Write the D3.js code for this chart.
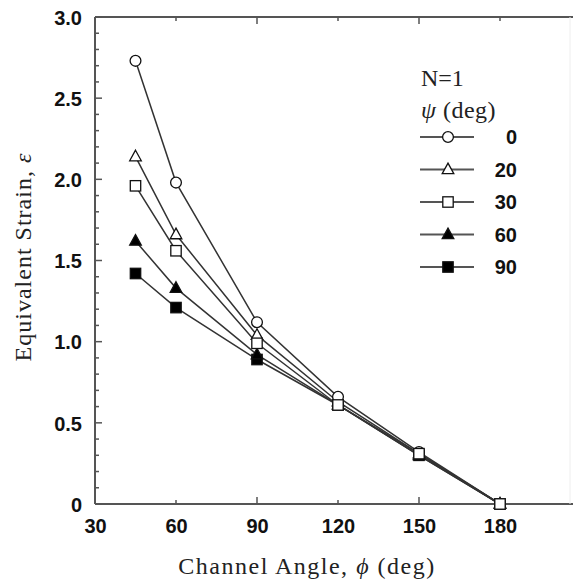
<!DOCTYPE html>
<html>
<head>
<meta charset="utf-8">
<script src="https://cdn.jsdelivr.net/npm/d3@7/dist/d3.min.js"></script>
<style>
  body { margin: 0; background: #fff; }
  svg { display: block; }
  .tick text { font-family: "Liberation Sans", Arial, sans-serif; font-weight: bold; font-size: 20px; fill: #111; }
  .ttl { font-family: "Liberation Serif", "Times New Roman", serif; font-size: 24px; fill: #222; letter-spacing: 1.5px; }
</style>
</head>
<body>
<svg id="chart" width="573" height="582"></svg>
<script>
// data
var angles = [45, 60, 90, 120, 150, 180];
var psiLabels = ["0", "20", "30", "60", "90"];
var strain0  = [2.73, 1.98, 1.12, 0.66, 0.32, 0];
var strain20 = [2.14, 1.66, 1.04, 0.63, 0.31, 0];
var strain30 = [1.96, 1.56, 0.99, 0.61, 0.31, 0];
var strain60 = [1.62, 1.33, 0.92, 0.61, 0.30, 0];
var strain90 = [1.42, 1.21, 0.89, 0.61, 0.30, 0];
var xTicks = [30, 60, 90, 120, 150, 180];
var yTicks = [0, 0.5, 1.0, 1.5, 2.0, 2.5, 3.0];

var series = [
  {psi: "0",  vals: strain0,  shape: "circle",   fill: "#fff"},
  {psi: "20", vals: strain20, shape: "triangle", fill: "#fff"},
  {psi: "30", vals: strain30, shape: "square",   fill: "#fff"},
  {psi: "60", vals: strain60, shape: "triangle", fill: "#000"},
  {psi: "90", vals: strain90, shape: "square",   fill: "#000"}
];

var svg = d3.select("#chart");

var pLeft = 95, pTop = 17, pBottom = 504, pRight = 581;
var x = d3.scaleLinear().domain([30, 210]).range([pLeft, pRight]);
var y = d3.scaleLinear().domain([0, 3]).range([pBottom, pTop]);

var axisCol = "#555";

// frame lines
svg.append("line").attr("x1", pLeft).attr("x2", 573).attr("y1", pTop).attr("y2", pTop)
   .attr("stroke", axisCol).attr("stroke-width", 2);
svg.append("line").attr("x1", pLeft).attr("x2", 573).attr("y1", pBottom).attr("y2", pBottom)
   .attr("stroke", axisCol).attr("stroke-width", 2);
svg.append("line").attr("x1", pLeft).attr("x2", pLeft).attr("y1", pTop).attr("y2", pBottom)
   .attr("stroke", axisCol).attr("stroke-width", 2);
svg.append("line").attr("x1", 570).attr("x2", 570).attr("y1", pTop).attr("y2", pBottom)
   .attr("stroke", "#eee").attr("stroke-width", 1);

// y axis: labels + inward ticks
var yMinor = d3.range(0, 3.001, 0.1);
var gy = svg.append("g").attr("transform", `translate(${pLeft},0)`);
gy.call(d3.axisLeft(y).tickValues(yTicks).tickSize(0).tickPadding(13)
        .tickFormat(d => d === 0 ? "0" : d3.format(".1f")(d)));
gy.select(".domain").remove();
gy.selectAll(".tick text").attr("dy", "0.36em");
gy.selectAll("line.mn").data(yMinor).enter().append("line")
  .attr("x1", 0).attr("x2", (d, i) => i % 5 === 0 ? 7 : 4)
  .attr("y1", d => y(d)).attr("y2", d => y(d))
  .attr("stroke", axisCol).attr("stroke-width", 1.5);

// x axis: labels + inward ticks
var gx = svg.append("g").attr("transform", `translate(0,${pBottom})`);
gx.call(d3.axisBottom(x).tickValues(xTicks).tickSize(0).tickPadding(15));
gx.select(".domain").remove();
gx.selectAll("line.mn").data(xTicks.slice(1)).enter().append("line")
  .attr("x1", d => x(d)).attr("x2", d => x(d))
  .attr("y1", 0).attr("y2", d => (d - 30) % 60 === 0 ? -7 : -4)
  .attr("stroke", axisCol).attr("stroke-width", 1.5);
svg.selectAll("line.tp").data(xTicks.slice(1)).enter().append("line")
  .attr("x1", d => x(d)).attr("x2", d => x(d))
  .attr("y1", pTop).attr("y2", d => pTop + ((d - 30) % 60 === 0 ? 7 : 4))
  .attr("stroke", axisCol).attr("stroke-width", 1.5);

// axis titles
var xt = svg.append("text").attr("class", "ttl").attr("x", 307).attr("y", 574)
  .attr("text-anchor", "middle");
xt.append("tspan").text("Channel Angle, ");
xt.append("tspan").attr("font-style", "italic").text("\u03d5");
xt.append("tspan").text(" (deg)");

var yt = svg.append("text").attr("class", "ttl").style("letter-spacing", "1px")
  .attr("transform", "translate(31,257) rotate(-90)").attr("text-anchor", "middle");
yt.append("tspan").text("Equivalent Strain, ");
yt.append("tspan").attr("font-style", "italic").text("\u03b5");

// marker drawing
function marker(g, shape, fill) {
  if (shape === "circle") {
    g.append("circle").attr("r", 5.4);
  } else if (shape === "square") {
    g.append("rect").attr("x", -5.2).attr("y", -5.2).attr("width", 10.4).attr("height", 10.4);
  } else {
    g.append("path").attr("d", "M0,-6.4L5.8,4.2L-5.8,4.2Z");
  }
  g.selectAll("*").attr("fill", fill).attr("stroke", "#111").attr("stroke-width", 1.3);
}

var line = d3.line().x((d, i) => x(angles[i])).y(d => y(d));

// draw order so the hollow square ends on top at 180
var order = [4, 3, 1, 0, 2];
order.forEach(function(k) {
  var s = series[k];
  svg.append("path").datum(s.vals).attr("d", line)
     .attr("fill", "none").attr("stroke", "#333").attr("stroke-width", 1.5);
});
order.forEach(function(k) {
  var s = series[k];
  s.vals.forEach(function(v, i) {
    var g = svg.append("g").attr("transform", `translate(${x(angles[i])},${y(v)})`);
    marker(g, s.shape, s.fill);
  });
});

// legend
var lg = svg.append("g");
lg.append("text").attr("class", "ttl").style("letter-spacing", "0px")
  .attr("x", 421).attr("y", 86).text("N=1");
var pt = lg.append("text").attr("class", "ttl").style("letter-spacing", "0.5px")
  .attr("x", 421).attr("y", 118);
pt.append("tspan").attr("font-style", "italic").text("\u03c8");
pt.append("tspan").text(" (deg)");

series.forEach(function(s, i) {
  var cy = 137 + i * 32.5;
  lg.append("line").attr("x1", 420).attr("x2", 474).attr("y1", cy).attr("y2", cy)
    .attr("stroke", "#555").attr("stroke-width", 1.8);
  var g = lg.append("g").attr("transform", `translate(448,${cy})`);
  marker(g, s.shape, s.fill);
  lg.append("text").attr("x", 517).attr("y", cy).attr("dy", "0.36em")
    .attr("text-anchor", "end")
    .style("font-family", "'Liberation Sans', Arial, sans-serif")
    .style("font-weight", "bold").style("font-size", "20px").style("fill", "#111")
    .text(psiLabels[i]);
});
</script>
</body>
</html>
